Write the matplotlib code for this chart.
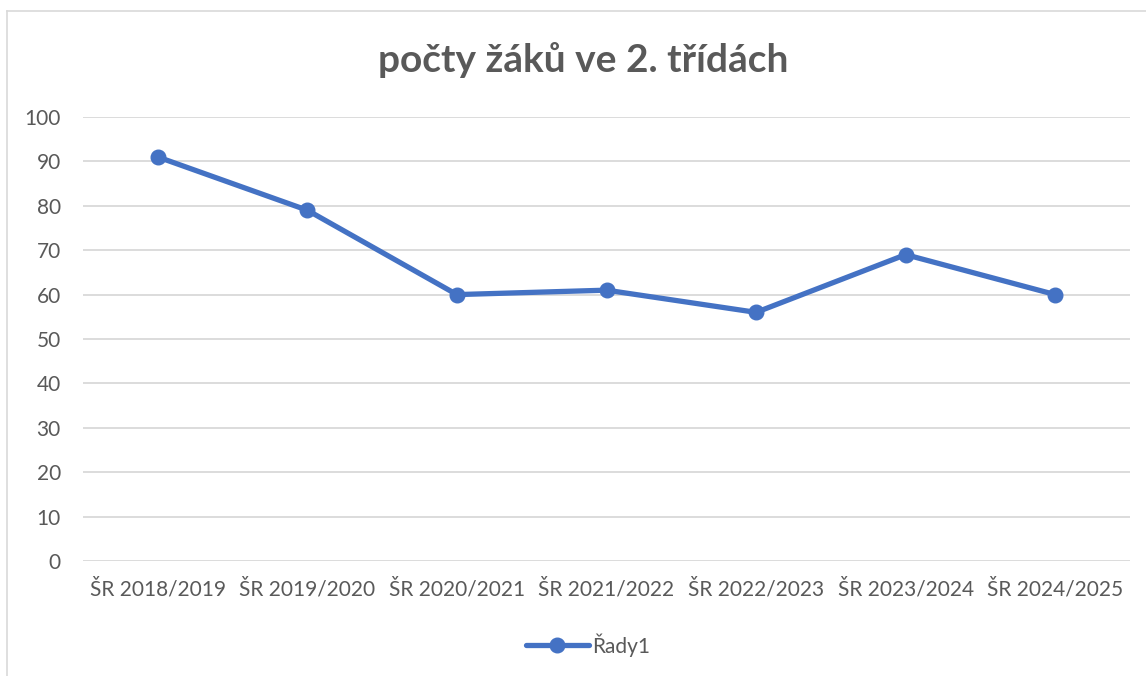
import matplotlib
matplotlib.use("Agg")
import matplotlib.pyplot as plt
from matplotlib.lines import Line2D

# data
skolni_roky = ["ŠR 2018/2019", "ŠR 2019/2020", "ŠR 2020/2021", "ŠR 2021/2022",
               "ŠR 2022/2023", "ŠR 2023/2024", "ŠR 2024/2025"]
pocty = [91, 79, 60, 61, 56, 69, 60]
nazev = "počty žáků ve 2. třídách"
serie = "Řady1"

seda = "#595959"
modra = "#4472c4"

plt.rcParams['font.family'] = ['Lato', 'DejaVu Sans']

fig = plt.figure(figsize=(11.46, 6.76), dpi=100)
ax = fig.add_axes([83/1146, 1 - 561/676, (1130 - 83)/1146, (561 - 117)/676])

x = list(range(len(skolni_roky)))
ax.plot(x, pocty, color=modra, linewidth=3.8, marker='o', markersize=10.5,
        label=serie, solid_capstyle='round', zorder=3)

ax.set_xlim(-0.5, len(skolni_roky) - 0.5)
ax.set_ylim(0, 100)
ax.set_yticks(range(0, 101, 10))
ax.set_xticks(x)
ax.set_xticklabels(skolni_roky)
ax.grid(axis='y', color='#d9d9d9', linewidth=1.3)
ax.set_axisbelow(True)
for s in ax.spines.values():
    s.set_visible(False)
ax.tick_params(axis='both', length=0, labelsize=15, colors=seda)
ax.tick_params(axis='x', pad=13)
ax.tick_params(axis='y', pad=16)

fig.text(583/1146, 1 - 60/676, nazev, ha='center', va='center',
         fontsize=28, fontweight='bold', color=seda)

leg = fig.legend(loc='center', bbox_to_anchor=(588/1146, 1 - 645/676),
                 frameon=False, fontsize=15, handlelength=3.0, handletextpad=0.15)
for t in leg.get_texts():
    t.set_color(seda)

# ramecek grafu
fig.add_artist(Line2D([7/1146, 1], [1 - 11/676, 1 - 11/676], transform=fig.transFigure,
                      color='#d9d9d9', linewidth=1.2))
fig.add_artist(Line2D([7/1146, 7/1146], [0, 1 - 11/676], transform=fig.transFigure,
                      color='#d9d9d9', linewidth=1.2))

fig.savefig("out.png", dpi=100)
